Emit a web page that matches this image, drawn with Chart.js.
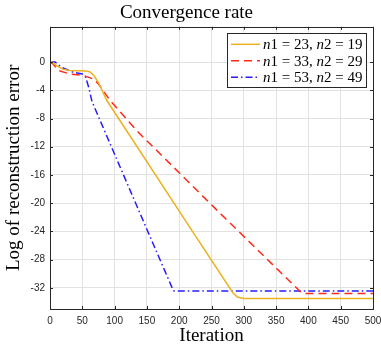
<!DOCTYPE html>
<html>
<head>
<meta charset="utf-8">
<script src="https://cdn.jsdelivr.net/npm/chart.js@4.4.1/dist/chart.umd.min.js"></script>
<style>
  html, body { margin: 0; padding: 0; background: #fff; }
  #chart { display: block; }
</style>
</head>
<body>
<canvas id="chart" width="381" height="345"></canvas>
<script>
// iteration / log-error pairs for each run
const iterA = [0, 3, 10, 20, 30, 55, 62, 68, 75, 88, 217, 283, 290, 300, 500];
const errA = [0, 0, -0.5, -1.0, -1.2, -1.25, -1.4, -1.9, -2.9, -5.45, -23.5, -32.7, -33.3, -33.5, -33.5];

const iterB = [0, 5, 13, 31, 52, 67, 75, 93, 134, 232, 263, 387, 392, 500];
const errB = [0, -0.3, -1.2, -1.7, -1.9, -2.4, -3.1, -5.45, -9.7, -18.6, -21.4, -32.5, -32.8, -32.8];

const iterC = [0, 8, 18, 36, 50, 55, 60, 65, 149, 191, 193, 500];
const errC = [0, 0, -0.75, -1.45, -1.7, -2.1, -3.6, -5.6, -23.5, -32.4, -32.45, -32.45];

const seriesNames = [
    ["n", "1 = 23, ", "n", "2 = 19"],
    ["n", "1 = 33, ", "n", "2 = 29"],
    ["n", "1 = 53, ", "n", "2 = 49"],
];

const xTicks = [0, 50, 100, 150, 200, 250, 300, 350, 400, 450, 500];
const yTicks = [0, -4, -8, -12, -16, -20, -24, -28, -32];

const AXIS_COLOR = "#262626";
const GRID_COLOR = "#e2e2e2";
const SERIF = "'Liberation Serif', 'Times New Roman', serif";
const SANS = "'Liberation Sans', Arial, sans-serif";

function toPoints(xs, ys) {
    return xs.map((x, i) => ({ x: x, y: ys[i] }));
}

// box around the plot area with inward ticks on all four sides
const framePlugin = {
    id: "frame",
    afterDatasetsDraw(chart) {
        const { ctx, chartArea: a, scales } = chart;
        const len = 3;
        ctx.save();
        ctx.strokeStyle = AXIS_COLOR;
        ctx.lineWidth = 1;
        ctx.beginPath();
        xTicks.forEach(v => {
            const px = Math.round(scales.x.getPixelForValue(v)) + 0.5;
            ctx.moveTo(px, a.bottom);
            ctx.lineTo(px, a.bottom - len);
            ctx.moveTo(px, a.top);
            ctx.lineTo(px, a.top + len);
        });
        yTicks.forEach(v => {
            const py = Math.round(scales.y.getPixelForValue(v)) + 0.5;
            ctx.moveTo(a.left, py);
            ctx.lineTo(a.left + len, py);
            ctx.moveTo(a.right, py);
            ctx.lineTo(a.right - len, py);
        });
        ctx.stroke();
        ctx.strokeRect(Math.round(a.left) + 0.5, Math.round(a.top) + 0.5,
            Math.round(a.right - a.left), Math.round(a.bottom - a.top));
        ctx.restore();
    },
};

// legend box in the upper right corner with italic n's
const legendPlugin = {
    id: "boxLegend",
    afterDatasetsDraw(chart) {
        const { ctx, chartArea: a } = chart;
        const boxW = 139, boxH = 54;
        const x0 = a.right - 7 - boxW;
        const y0 = a.top + 6;
        ctx.save();
        ctx.fillStyle = "#fff";
        ctx.fillRect(x0, y0, boxW, boxH);
        ctx.strokeStyle = AXIS_COLOR;
        ctx.lineWidth = 1;
        ctx.strokeRect(Math.round(x0) + 0.5, Math.round(y0) + 0.5, boxW, boxH);

        chart.data.datasets.forEach((ds, i) => {
            const cy = y0 + 11.5 + i * 16.5;
            ctx.strokeStyle = ds.borderColor;
            ctx.lineWidth = ds.borderWidth;
            ctx.setLineDash(ds.borderDash || []);
            ctx.beginPath();
            ctx.moveTo(x0 + 4, cy);
            ctx.lineTo(x0 + 33, cy);
            ctx.stroke();
            ctx.setLineDash([]);

            let tx = x0 + 36;
            ctx.fillStyle = "#000";
            ctx.textBaseline = "middle";
            seriesNames[i].forEach((part, k) => {
                ctx.font = (k % 2 === 0 ? "italic " : "") + "15px " + SERIF;
                ctx.fillText(part, tx, cy + 1);
                tx += ctx.measureText(part).width;
            });
        });
        ctx.restore();
    },
};

new Chart(document.getElementById("chart"), {
    type: "line",
    data: {
        datasets: [
            {
                label: "n1 = 23, n2 = 19",
                data: toPoints(iterA, errA),
                borderColor: "#edb120",
                borderWidth: 1.5,
            },
            {
                label: "n1 = 33, n2 = 29",
                data: toPoints(iterB, errB),
                borderColor: "#ff2a1a",
                borderWidth: 1.5,
                borderDash: [8, 5],
            },
            {
                label: "n1 = 53, n2 = 49",
                data: toPoints(iterC, errC),
                borderColor: "#2a1cff",
                borderWidth: 1.5,
                borderDash: [7, 3, 1.5, 3],
            },
        ],
    },
    options: {
        responsive: false,
        devicePixelRatio: 1,
        animation: false,
        parsing: false,
        elements: {
            point: { radius: 0 },
            line: { tension: 0, fill: false },
        },
        layout: { padding: { left: 0, right: 8, top: 0, bottom: 0 } },
        plugins: {
            legend: { display: false },
            tooltip: { enabled: false },
            title: {
                display: true,
                text: "Convergence rate",
                color: "#000",
                font: { family: SERIF, size: 19, weight: "normal" },
                padding: { top: 2, bottom: 2 },
            },
        },
        scales: {
            x: {
                type: "linear",
                min: 0,
                max: 500,
                afterBuildTicks: s => { s.ticks = xTicks.map(v => ({ value: v })); },
                afterFit: s => { s.height = 36; s.paddingLeft = 0; s.paddingRight = 0; },
                grid: { color: GRID_COLOR, drawTicks: false },
                border: { display: false },
                ticks: { color: AXIS_COLOR, padding: 6, font: { family: SANS, size: 10 } },
                title: {
                    display: true,
                    text: "Iteration",
                    color: "#000",
                    font: { family: SERIF, size: 19 },
                    padding: { top: 0, bottom: -2 },
                },
            },
            y: {
                type: "linear",
                min: -35,
                max: 5,
                afterBuildTicks: s => { s.ticks = yTicks.map(v => ({ value: v })); },
                afterFit: s => { s.width = 50; },
                grid: { color: GRID_COLOR, drawTicks: false },
                border: { display: false },
                ticks: { color: AXIS_COLOR, padding: 5, font: { family: SANS, size: 10 } },
                title: {
                    display: true,
                    text: "Log of reconstruction error",
                    color: "#000",
                    font: { family: SERIF, size: 19 },
                    padding: { top: 3, bottom: 0 },
                },
            },
        },
    },
    plugins: [framePlugin, legendPlugin],
});
</script>
</body>
</html>
